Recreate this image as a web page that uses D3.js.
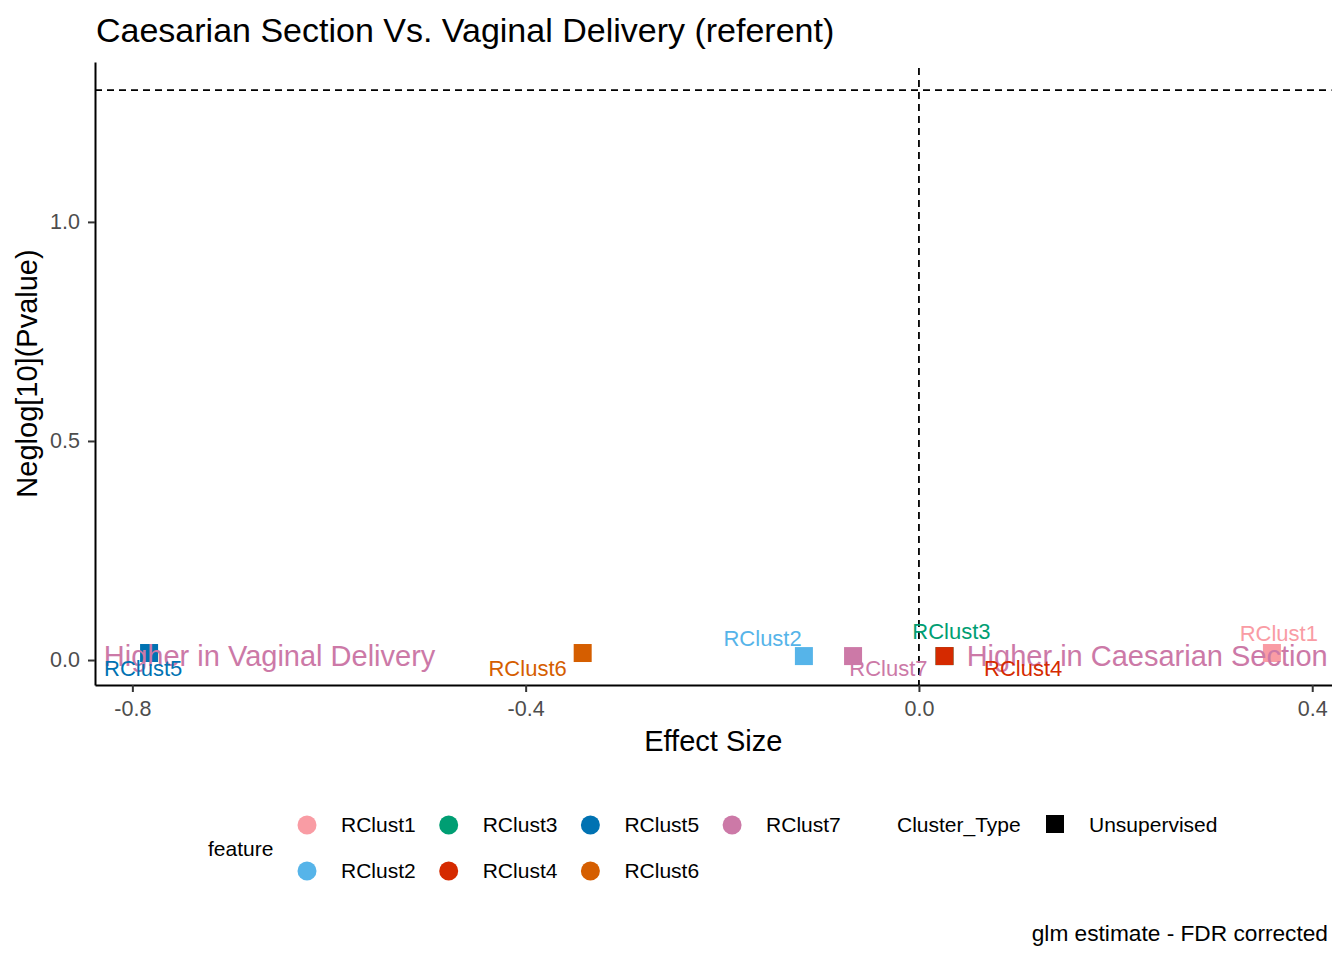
<!DOCTYPE html>
<html>
<head>
<meta charset="utf-8">
<script src="https://cdn.jsdelivr.net/npm/d3@7"></script>
<style>
  body { margin: 0; background: #fff; }
  text { font-family: "Liberation Sans", Arial, sans-serif; }
</style>
</head>
<body>
<svg id="chart" width="1344" height="960"></svg>
<script>
// data
var features = ["RClust1", "RClust2", "RClust3", "RClust4", "RClust5", "RClust6", "RClust7"];
var colours = ["#F99CA4", "#56B4E9", "#009E73", "#D52A00", "#0072B2", "#D55E00", "#CC79A7"];
var effect = [0.359, -0.117, 0.026, 0.026, -0.783, -0.342, -0.067];
var neglogP = [0.016, 0.009, 0.009, 0.009, 0.016, 0.016, 0.009];
// where the repelled labels ended up (data units)
var labelX = [0.366, -0.159, 0.033, 0.106, -0.789, -0.398, -0.031];
var labelY = [0.060, 0.050, 0.066, -0.020, -0.020, -0.020, -0.020];
var xTicks = [-0.8, -0.4, 0.0, 0.4];
var yTicks = [0.0, 0.5, 1.0];
var cutoff = -Math.log10(0.05);

var svg = d3.select("#chart");
var pLeft = 95, pRight = 1331.5, pTop = 62, pBottom = 685;

var x = d3.scaleLinear().domain([-0.838, 0.4196]).range([pLeft, pRight]);
var y = d3.scaleLinear().domain([-0.057, 1.365]).range([pBottom, pTop]);

var fmt = function(d) { return d3.format(".1f")(d).replace("\u2212", "-"); };

// title
svg.append("text")
    .attr("x", 96).attr("y", 42)
    .style("font-size", "34px")
    .text("Caesarian Section Vs. Vaginal Delivery (referent)");

// reference lines
svg.append("line")
    .attr("x1", pLeft).attr("x2", pRight)
    .attr("y1", y(cutoff)).attr("y2", y(cutoff))
    .attr("stroke", "#000").attr("stroke-width", 1.8).attr("stroke-dasharray", "7,5");
svg.append("line")
    .attr("x1", x(0)).attr("x2", x(0))
    .attr("y1", pTop + 6).attr("y2", pBottom)
    .attr("stroke", "#000").attr("stroke-width", 1.8).attr("stroke-dasharray", "7,5");

// axes
var xAxis = svg.append("g")
    .attr("transform", "translate(0," + pBottom + ")")
    .call(d3.axisBottom(x).tickValues(xTicks).tickFormat(fmt).tickSizeInner(7).tickSizeOuter(0));
var yAxis = svg.append("g")
    .attr("transform", "translate(" + pLeft + ",0)")
    .call(d3.axisLeft(y).tickValues(yTicks).tickFormat(fmt).tickSizeInner(7).tickSizeOuter(0));
[xAxis, yAxis].forEach(function(a) {
    a.select(".domain").attr("stroke", "#000").attr("stroke-width", 2);
    a.selectAll(".tick line").attr("stroke", "#333").attr("stroke-width", 2);
    a.selectAll(".tick text").attr("fill", "#4D4D4D").style("font-size", "21.5px")
        .style("font-family", "'Liberation Sans', Arial, sans-serif");
});
xAxis.selectAll(".tick text").attr("y", 11).attr("dy", "0.95em");
yAxis.selectAll(".tick text").attr("x", -15);

// points
svg.selectAll("rect.pt")
    .data(features)
    .enter()
    .append("rect")
    .attr("class", "pt")
    .attr("x", function(d, i) { return x(effect[i]) - 9; })
    .attr("y", function(d, i) { return y(neglogP[i]) - 9; })
    .attr("width", 18).attr("height", 18)
    .attr("fill", function(d, i) { return colours[i]; });

// direction annotations
svg.append("text")
    .attr("x", x(-0.829)).attr("y", y(0))
    .attr("dy", "0.2em")
    .attr("fill", "#CC79A7")
    .style("font-size", "29px")
    .text("Higher in Vaginal Delivery");
svg.append("text")
    .attr("x", x(0.4158)).attr("y", y(0))
    .attr("dy", "0.2em")
    .attr("text-anchor", "end")
    .attr("fill", "#CC79A7")
    .style("font-size", "29px")
    .text("Higher in Caesarian Section");

// point labels
svg.selectAll("text.lab")
    .data(features)
    .enter()
    .append("text")
    .attr("class", "lab")
    .attr("x", function(d, i) { return x(labelX[i]); })
    .attr("y", function(d, i) { return y(labelY[i]); })
    .attr("dy", "0.35em")
    .attr("text-anchor", "middle")
    .attr("fill", function(d, i) { return colours[i]; })
    .style("font-size", "22px")
    .text(function(d) { return d; });

// axis titles
svg.append("text")
    .attr("x", (pLeft + pRight) / 2).attr("y", 751)
    .attr("text-anchor", "middle")
    .style("font-size", "29px")
    .text("Effect Size");
svg.append("text")
    .attr("transform", "translate(37," + ((pTop + pBottom) / 2) + ") rotate(-90)")
    .attr("text-anchor", "middle")
    .style("font-size", "29px")
    .text("Neglog[10](Pvalue)");

// legend
svg.append("text").attr("x", 208).attr("y", 856).style("font-size", "21px").text("feature");
var legend = svg.selectAll(".legend")
    .data(features)
    .enter()
    .append("g")
    .attr("class", "legend")
    .attr("transform", function(d, i) {
        var col = Math.floor(i / 2), row = i % 2;
        return "translate(" + (307 + col * 141.7) + "," + (825 + row * 46) + ")";
    });
legend.append("circle").attr("r", 9.5).attr("fill", function(d, i) { return colours[i]; });
legend.append("text")
    .attr("x", 34).attr("dy", "0.35em")
    .style("font-size", "21px")
    .text(function(d) { return d; });

svg.append("text").attr("x", 897).attr("y", 832).style("font-size", "21px").text("Cluster_Type");
svg.append("rect").attr("x", 1046).attr("y", 815).attr("width", 18).attr("height", 18).attr("fill", "#000");
svg.append("text").attr("x", 1089).attr("y", 832).style("font-size", "21px").text("Unsupervised");

// caption
svg.append("text")
    .attr("x", 1328).attr("y", 941)
    .attr("text-anchor", "end")
    .style("font-size", "22.7px")
    .text("glm estimate - FDR corrected");
</script>
</body>
</html>
